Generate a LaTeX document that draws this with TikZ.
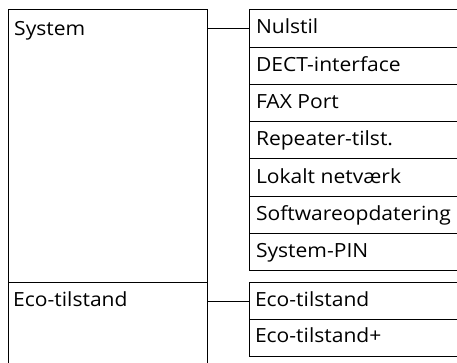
\documentclass[tikz,border=0pt]{standalone}
\usepackage{fontspec}
\setmainfont[FakeStretch=1.08]{Open Sans}
\begin{document}
\begin{tikzpicture}[x=1pt,y=-1pt,
  box/.style={draw,line width=0.9pt,rectangle,inner sep=0pt,anchor=north west},
  lbl/.style={anchor=base west,inner sep=0pt,font=\fontsize{19.5}{22}\selectfont},
  conn/.style={line width=0.9pt}]
\useasboundingbox (0,0) rectangle (457,363);
\clip (0,0) rectangle (457,363);
% left boxes
\node[box,minimum width=199pt,minimum height=273pt] (sys) at (8,9.3) {};
\node[box,minimum width=199pt,minimum height=90pt] (eco) at (8,282.3) {};
\node[lbl] (tsys) at ([xshift=6pt,yshift=-26.7pt]sys.north west) {System};
\node[lbl] (teco) at ([xshift=5pt,yshift=-23.7pt]eco.north west) {Eco-tilstand};
% right rows
\node[box,minimum width=215pt,minimum height=37.3pt] (r1) at (249.3,9.3) {};
\node[box,minimum width=215pt,minimum height=37.3pt] (r2) at (249.3,46.6) {};
\node[box,minimum width=215pt,minimum height=37.3pt] (r3) at (249.3,83.9) {};
\node[box,minimum width=215pt,minimum height=37.3pt] (r4) at (249.3,121.2) {};
\node[box,minimum width=215pt,minimum height=37.3pt] (r5) at (249.3,158.5) {};
\node[box,minimum width=215pt,minimum height=37.3pt] (r6) at (249.3,195.8) {};
\node[box,minimum width=215pt,minimum height=37.3pt] (r7) at (249.3,233.1) {};
\node[box,minimum width=215pt,minimum height=36.85pt] (e1) at (249.3,282.3) {};
\node[box,minimum width=215pt,minimum height=36.85pt] (e2) at (249.3,319.15) {};
\node[lbl] (t1) at ([xshift=6.5pt,yshift=-24.7pt]r1.north west) {Nulstil};
\node[lbl] (t2) at ([xshift=6.5pt,yshift=-24.7pt]r2.north west) {DECT-interface};
\node[lbl] (t3) at ([xshift=6.5pt,yshift=-24.7pt]r3.north west) {FAX Port};
\node[lbl] (t4) at ([xshift=6.5pt,yshift=-24.7pt]r4.north west) {Repeater-tilst.};
\node[lbl] (t5) at ([xshift=6.5pt,yshift=-24.7pt]r5.north west) {Lokalt netværk};
\node[lbl] (t6) at ([xshift=6.5pt,yshift=-24.7pt]r6.north west) {Softwareopdatering};
\node[lbl] (t7) at ([xshift=6.5pt,yshift=-24.7pt]r7.north west) {System-PIN};
\node[lbl] (t8) at ([xshift=5.5pt,yshift=-23.7pt]e1.north west) {Eco-tilstand};
\node[lbl] (t9) at ([xshift=5.5pt,yshift=-23.7pt]e2.north west) {Eco-tilstand+};
% connectors
\draw[conn] (sys.east |- r1.west) -- (r1.west);
\draw[conn] (eco.east |- e1.west) -- (e1.west);
\end{tikzpicture}
\end{document}
